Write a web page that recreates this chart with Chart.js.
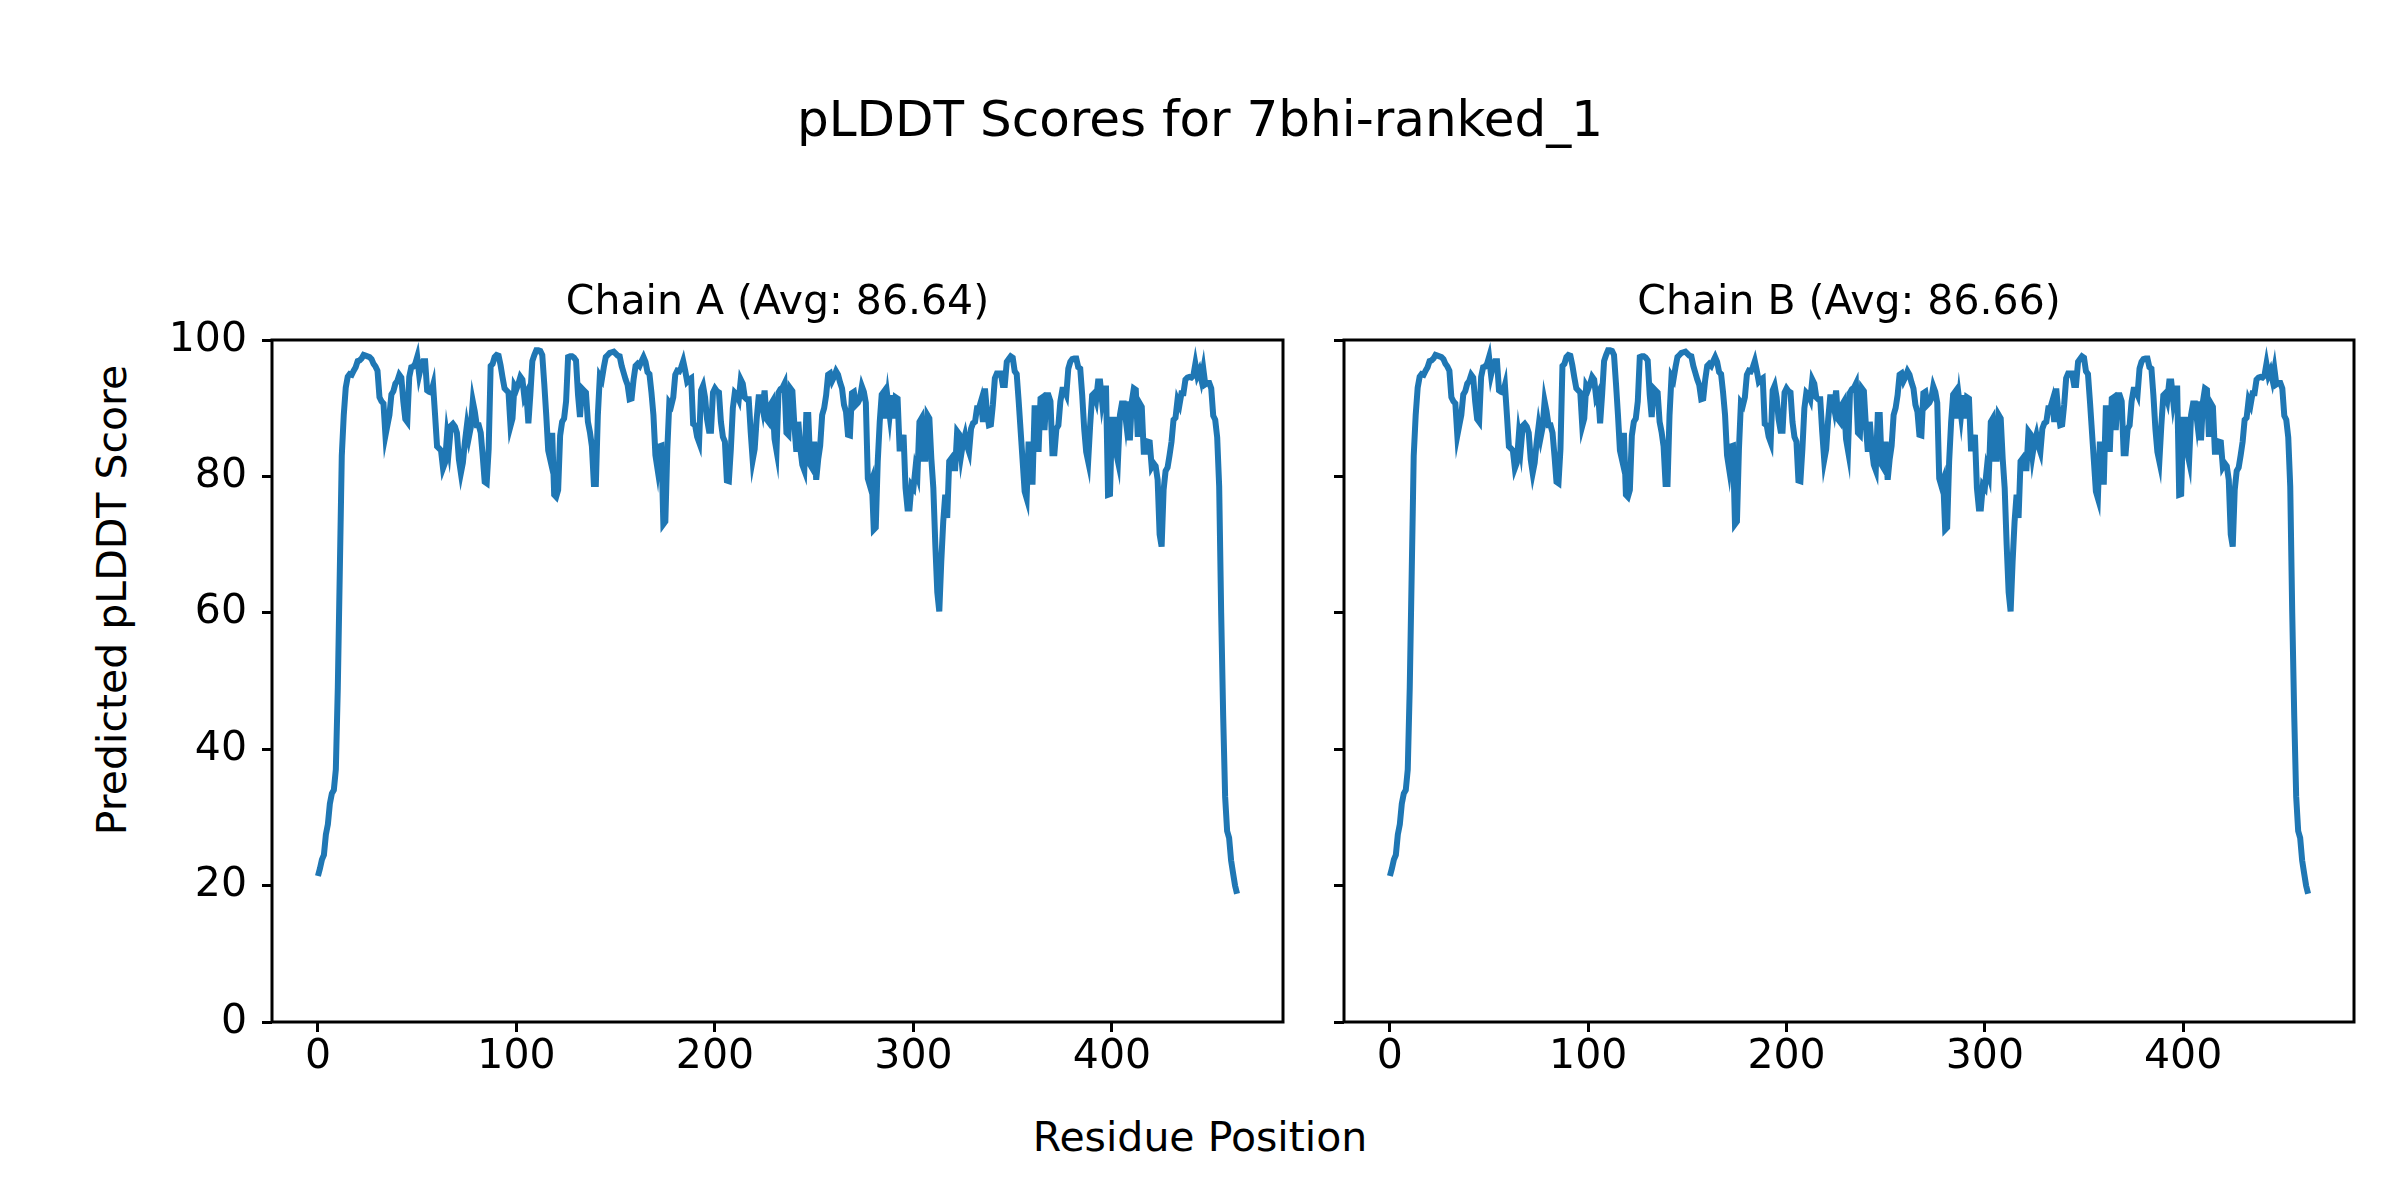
<!DOCTYPE html>
<html lang="en">
<head>
<meta charset="UTF-8">
<title>pLDDT Scores for 7bhi-ranked_1</title>
<script src="https://cdn.jsdelivr.net/npm/chart.js"></script>
<style>
  body { margin: 0; background: #fff; width: 2400px; height: 1200px; position: relative; overflow: hidden; font-family: "DejaVu Sans", sans-serif; }
  .txt { position: absolute; color: #000; white-space: nowrap; transform: translate(-50%, -50%); }
  canvas { position: absolute; }
</style>
</head>
<body>
<div class="txt" style="left:1200px; top:119px; font-size:50px">pLDDT Scores for 7bhi-ranked_1</div>
<div class="txt" style="left:1200px; top:1137px; font-size:41px">Residue Position</div>
<div class="txt" style="left:112px; top:600px; font-size:41px; transform:translate(-50%,-50%) rotate(-90deg)">Predicted pLDDT Score</div>
<canvas id="chainA" width="1555" height="820" style="left:0; top:260px"></canvas>
<canvas id="chainB" width="1098" height="820" style="left:1300px; top:260px"></canvas>
<script>
// per-residue pLDDT, residue 0..463
const chainA = [
  21.4, 22.5, 23.8, 24.5, 27.5, 29.0, 32.0, 33.5, 34.0, 37.0,
  49.0, 66.0, 83.0, 89.0, 93.0, 94.6, 95.0, 94.9, 95.5, 96.0,
  96.9, 97.0, 97.3, 97.8, 97.7, 97.6, 97.5, 97.2, 96.5, 96.1,
  95.5, 91.6, 91.0, 90.7, 86.0, 87.5, 89.0, 92.0, 92.5, 93.6,
  94.0, 94.9, 94.5, 91.0, 88.4, 88.0, 94.6, 96.0, 96.1, 96.5,
  97.5, 94.9, 96.2, 96.9, 96.9, 92.6, 92.4, 92.3, 93.4, 89.0,
  84.4, 84.1, 83.8, 81.2, 82.0, 86.0, 84.1, 87.4, 87.7, 87.3,
  86.4, 82.5, 80.5, 82.0, 85.0, 87.4, 85.7, 87.2, 91.0, 89.5,
  87.5, 87.5, 86.4, 83.0, 79.2, 79.0, 84.0, 96.2, 96.5, 97.5,
  97.8, 97.7, 96.3, 94.5, 92.9, 92.6, 92.3, 87.4, 88.5, 93.3,
  92.8, 93.6, 94.6, 94.2, 91.6, 92.2, 87.8, 92.0, 96.9, 97.8,
  98.5, 98.5, 98.4, 97.8, 93.6, 89.0, 83.8, 82.5, 86.4, 77.3,
  77.0, 78.0, 86.0, 88.0, 88.5, 91.0, 97.5, 97.6, 97.6, 97.4,
  97.0, 92.0, 88.7, 92.9, 92.6, 92.3, 88.0, 86.5, 84.4, 78.9,
  78.9, 89.0, 94.7, 94.2, 96.0, 97.5, 97.8, 98.1, 98.2, 98.3,
  98.0, 97.7, 97.6, 96.2, 95.2, 94.2, 93.4, 91.3, 91.4, 94.2,
  96.2, 96.5, 96.2, 96.9, 97.5, 96.8, 95.3, 95.0, 92.3, 89.0,
  83.1, 81.2, 84.4, 84.5, 73.0, 73.4, 84.0, 90.8, 90.4, 91.6,
  94.9, 95.5, 95.4, 96.0, 96.9, 95.5, 93.9, 94.2, 94.4, 87.7,
  87.5, 85.8, 85.0, 92.6, 93.3, 91.6, 88.4, 86.7, 86.7, 92.3,
  92.9, 92.5, 92.3, 88.0, 85.8, 85.1, 79.4, 79.3, 84.0, 90.0,
  92.3, 92.0, 91.3, 94.2, 93.6, 91.6, 91.3, 91.3, 86.5, 82.4,
  84.0, 88.4, 91.6, 91.6, 90.0, 92.6, 88.4, 88.0, 90.5, 91.0,
  85.5, 83.8, 92.3, 92.8, 93.0, 93.6, 86.4, 86.1, 92.9, 92.5,
  87.5, 83.6, 88.0, 84.1, 81.7, 80.9, 89.0, 89.0, 81.7, 81.2,
  85.1, 79.5, 82.5, 84.5, 89.0, 90.0, 91.9, 94.9, 95.1, 94.0,
  94.6, 95.4, 94.9, 93.8, 92.9, 90.5, 89.5, 86.1, 86.0, 92.2,
  92.4, 90.5, 90.8, 91.4, 93.2, 92.4, 90.8, 79.7, 78.7, 79.5,
  72.2, 72.5, 82.2, 88.0, 92.0, 92.4, 88.5, 91.4, 89.0, 91.9,
  88.5, 91.6, 91.4, 84.1, 84.1, 86.1, 78.3, 75.3, 75.3, 78.7,
  78.3, 81.2, 80.2, 88.0, 88.5, 82.6, 82.6, 89.0, 88.5, 82.6,
  78.3, 70.0, 63.0, 60.2, 67.5, 73.4, 77.3, 73.9, 82.2, 82.6,
  81.2, 81.2, 86.6, 86.2, 83.1, 85.0, 86.1, 84.5, 83.6, 87.0,
  87.8, 88.0, 90.0, 90.0, 91.0, 88.0, 92.9, 89.5, 87.5, 87.6,
  90.5, 94.4, 95.1, 95.1, 95.1, 93.4, 93.4, 96.8, 97.2, 97.6,
  97.4, 95.4, 95.0, 91.0, 86.6, 82.2, 77.8, 76.8, 85.1, 79.2,
  79.2, 90.0, 90.0, 83.6, 91.4, 91.6, 86.8, 91.9, 91.9, 91.0,
  83.4, 83.4, 87.0, 87.5, 91.0, 92.7, 92.7, 92.0, 95.8, 96.8,
  97.2, 97.3, 97.3, 96.0, 95.8, 91.9, 87.0, 83.6, 82.2, 87.5,
  91.9, 92.2, 91.2, 93.9, 93.9, 91.0, 92.9, 92.9, 77.3, 77.4,
  88.3, 88.3, 83.6, 82.2, 89.0, 90.7, 90.7, 88.2, 91.0, 85.3,
  91.0, 92.9, 92.7, 85.8, 90.7, 90.2, 83.6, 83.6, 85.1, 85.0,
  81.4, 81.9, 81.5, 79.5, 71.5, 69.7, 78.0, 80.8, 81.3, 83.1,
  85.1, 88.3, 88.6, 91.2, 90.5, 92.2, 92.2, 94.2, 94.5, 94.6,
  94.5, 94.8, 96.5, 94.8, 95.5, 94.2, 95.8, 93.5, 93.7, 93.7,
  92.9, 88.9, 88.3, 85.7, 78.5, 60.0, 45.0, 33.0, 28.0, 27.0,
  23.7, 21.8, 20.0, 18.8
];
// chain B trace reads the same as chain A on the picture
const chainB = chainA.slice();

const chainTitles = ["Chain A (Avg: 86.64)", "Chain B (Avg: 86.66)"];
const xTicks = [0, 100, 200, 300, 400];
const yTicks = [0, 20, 40, 60, 80, 100];

const frame = {
  id: "frame",
  afterDatasetsDraw(chart) {
    const { ctx, chartArea: a } = chart;
    ctx.save();
    ctx.strokeStyle = "#000";
    ctx.lineWidth = 3;
    ctx.strokeRect(a.left, a.top, a.right - a.left, a.bottom - a.top);
    ctx.restore();
  }
};

function makeChart(id, title, values, sideWidth, showYLabels) {
  const tickFont = { family: "DejaVu Sans", size: 41 };
  const tickGrid = { drawOnChartArea: false, drawTicks: true, tickLength: 10, tickWidth: 3, tickColor: "#000" };
  return new Chart(document.getElementById(id), {
    type: "line",
    data: {
      datasets: [{
        data: values.map((v, i) => ({ x: i, y: v })),
        borderColor: "#1f77b4",
        borderWidth: 6,
        pointRadius: 0,
        fill: false,
        tension: 0
      }]
    },
    options: {
      responsive: false,
      animation: false,
      devicePixelRatio: 1,
      layout: { padding: 0 },
      plugins: {
        legend: { display: false },
        tooltip: { enabled: false },
        title: {
          display: true,
          text: title,
          color: "#000",
          font: { family: "DejaVu Sans", size: 41, weight: "normal", lineHeight: 1.2 },
          padding: { top: 18.4, bottom: 12.4 }
        }
      },
      scales: {
        x: {
          type: "linear",
          min: -23.15,
          max: 486.15,
          afterBuildTicks: s => { s.ticks = xTicks.map(v => ({ value: v })); },
          afterFit: s => { s.height = 58; },
          border: { display: false },
          grid: tickGrid,
          ticks: { color: "#000", font: tickFont, padding: 1, maxRotation: 0, autoSkip: false }
        },
        y: {
          min: 0,
          max: 100,
          afterBuildTicks: s => { s.ticks = yTicks.map(v => ({ value: v })); },
          afterFit: s => { s.width = sideWidth; },
          border: { display: false },
          grid: tickGrid,
          ticks: { color: "#000", font: tickFont, padding: 15, callback: v => showYLabels ? v : "" }
        },
        // empty right-hand box so the subplot title centres over the axes
        pad: {
          position: "right",
          afterFit: s => { s.width = sideWidth; },
          border: { display: false },
          grid: { display: false },
          ticks: { display: false }
        }
      }
    },
    plugins: [frame]
  });
}

makeChart("chainA", chainTitles[0], chainA, 272, true);
makeChart("chainB", chainTitles[1], chainB, 44, false);
</script>
</body>
</html>
